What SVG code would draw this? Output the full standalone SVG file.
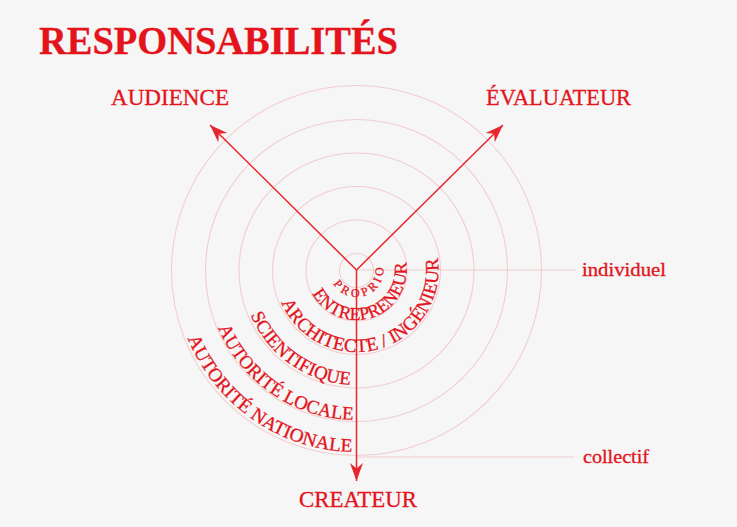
<svg xmlns="http://www.w3.org/2000/svg" xmlns:xlink="http://www.w3.org/1999/xlink" width="737" height="527" viewBox="0 0 737 527">
  <style>
    .t { font-family: "Liberation Serif", "DejaVu Serif", serif; fill: #e3141c; stroke: #e3141c; stroke-width: 0.3; }
    .ring { fill: none; stroke: #f2cdd0; stroke-width: 1.1; }
    .guide { fill: none; stroke: #f2cdd0; stroke-width: 1.1; }
    .conn { fill: none; stroke: #e8262e; stroke-width: 1.5; marker-end: url(#arrow); }
    .arc { font-size: 19px; }
  </style>
  <defs>
    <marker id="arrow" markerUnits="userSpaceOnUse" markerWidth="24" markerHeight="18" viewBox="-20 -9 22 18" refX="0" refY="0" orient="auto">
      <path d="M0,0 L-18,-6.5 L-12.5,0 L-18,6.5 Z" fill="#e8262e"/>
    </marker>
    <path id="pNat" d="M187.75,338.18 A182,182 0 0 0 388.1,449.24"/>
    <path id="pLoc" d="M218.12,327.89 A150,150 0 0 0 382.55,417.72"/>
    <path id="pSci" d="M250.64,314.93 A115,115 0 0 0 376.47,383.25"/>
    <path id="pArc" d="M281.19,302.44 A82,82 0 0 0 436.06,250.16"/>
    <path id="pEnt" d="M312.35,293.47 A50,50 0 0 0 405.02,257.9"/>
    <path id="pPro" d="M333.31,283.83 A27,27 0 0 0 383.09,265.31"/>
  </defs>

  <rect x="0" y="0" width="737" height="527" fill="#f6f6f6"/>

  <g id="title">
    <text class="t" x="39" y="54" font-size="39" font-weight="bold" textLength="359" lengthAdjust="spacingAndGlyphs">RESPONSABILITÉS</text>
  </g>

  <g id="rings">
    <circle class="ring" cx="356.5" cy="270.5" r="17"/>
    <circle class="ring" cx="356.5" cy="270.5" r="50.5"/>
    <circle class="ring" cx="356.5" cy="270.5" r="84"/>
    <circle class="ring" cx="356.5" cy="270.5" r="117.5"/>
    <circle class="ring" cx="356.5" cy="270.5" r="151"/>
    <circle class="ring" cx="356.5" cy="270.5" r="185"/>
  </g>

  <g id="guides">
    <line class="guide" x1="356.5" y1="270" x2="576" y2="270"/>
    <line class="guide" x1="357" y1="457" x2="574" y2="457"/>
  </g>

  <g id="connectors">
    <line class="conn" x1="356.5" y1="270" x2="210" y2="125"/>
    <line class="conn" x1="356.5" y1="270" x2="503" y2="125"/>
    <line class="conn" x1="356.5" y1="270" x2="356.5" y2="481"/>
  </g>

  <g id="audience">
    <text class="t" x="111" y="105" font-size="23" textLength="118" lengthAdjust="spacingAndGlyphs">AUDIENCE</text>
  </g>
  <g id="evaluateur">
    <text class="t" x="486" y="105" font-size="23" textLength="145" lengthAdjust="spacingAndGlyphs">ÉVALUATEUR</text>
  </g>
  <g id="createur">
    <text class="t" x="299" y="507" font-size="23" textLength="118" lengthAdjust="spacingAndGlyphs">CREATEUR</text>
  </g>
  <g id="individuel">
    <text class="t" x="582" y="276" font-size="18" textLength="84" lengthAdjust="spacingAndGlyphs">individuel</text>
  </g>
  <g id="collectif">
    <text class="t" x="583" y="463" font-size="18" textLength="66" lengthAdjust="spacingAndGlyphs">collectif</text>
  </g>

  <g id="autorite-nationale">
    <text class="t arc"><textPath xlink:href="#pNat" href="#pNat" textLength="211.6" lengthAdjust="spacingAndGlyphs">AUTORITÉ NATIONALE</textPath></text>
  </g>
  <g id="autorite-locale">
    <text class="t arc"><textPath xlink:href="#pLoc" href="#pLoc" textLength="172.8" lengthAdjust="spacingAndGlyphs">AUTORITÉ LOCALE</textPath></text>
  </g>
  <g id="scientifique">
    <text class="t arc"><textPath xlink:href="#pSci" href="#pSci" textLength="128" lengthAdjust="spacingAndGlyphs">SCIENTIFIQUE</textPath></text>
  </g>
  <g id="architecte-ingenieur">
    <text class="t arc"><textPath xlink:href="#pArc" href="#pArc" textLength="236" lengthAdjust="spacingAndGlyphs">ARCHITECTE / INGÉNIEUR</textPath></text>
  </g>
  <g id="entrepreneur">
    <text class="t" font-size="18"><textPath xlink:href="#pEnt" href="#pEnt" textLength="140.2" lengthAdjust="spacingAndGlyphs">ENTREPRENEUR</textPath></text>
  </g>
  <g id="proprio">
    <text class="t" font-size="12" stroke-width="0.2"><textPath xlink:href="#pPro" href="#pPro" textLength="72.3" lengthAdjust="spacing">PROPRIO</textPath></text>
  </g>
</svg>
